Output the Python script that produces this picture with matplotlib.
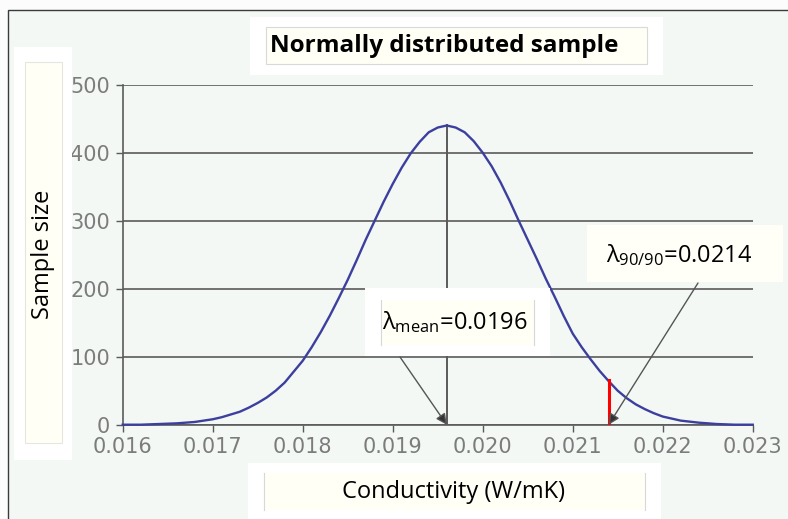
import matplotlib
matplotlib.use("Agg")
import matplotlib.pyplot as plt
from matplotlib.patches import Rectangle
from matplotlib.lines import Line2D

# ---- data ----
conductivity = [0.0160, 0.0162, 0.0164, 0.0166, 0.0168, 0.0170, 0.0171, 0.0172, 0.0173, 0.0174,
                0.0175, 0.0176, 0.0177, 0.0178, 0.0179, 0.0180, 0.0181, 0.0182, 0.0183, 0.0184,
                0.0185, 0.0186, 0.0187, 0.0188, 0.0189, 0.0190, 0.0191, 0.0192, 0.0193, 0.0194,
                0.0195, 0.0196, 0.0197, 0.0198, 0.0199, 0.0200, 0.0201, 0.0202, 0.0203, 0.0204,
                0.0205, 0.0206, 0.0207, 0.0208, 0.0209, 0.0210, 0.0211, 0.0212, 0.0213, 0.0214,
                0.0215, 0.0216, 0.0217, 0.0218, 0.0219, 0.0220, 0.0222, 0.0224, 0.0226, 0.0228,
                0.0230]
sample_size = [0, 0, 1, 2, 4, 8, 11, 15, 19, 25,
               32, 40, 50, 62, 78, 94, 114, 136, 160, 186,
               213, 242, 272, 300, 328, 354, 378, 399, 416, 430,
               437, 440, 437, 430, 417, 400, 380, 356, 329, 300,
               272, 244, 215, 188, 160, 134, 114, 96, 79, 64,
               50, 39, 30, 23, 17, 12, 6, 3, 1, 0,
               0]
x_ticks = [0.016, 0.017, 0.018, 0.019, 0.020, 0.021, 0.022, 0.023]
x_tick_labels = ["0.016", "0.017", "0.018", "0.019", "0.020", "0.021", "0.022", "0.023"]
y_ticks = [0, 100, 200, 300, 400, 500]
lambda_mean = 0.0196
lambda_9090 = 0.0214
value_at_9090 = 66

title = "Normally distributed sample"
x_label = "Conductivity (W/mK)"
y_label = "Sample size"

W, H = 788, 519
plt.rcParams['mathtext.fontset'] = 'custom'
plt.rcParams['mathtext.rm'] = 'Open Sans'
plt.rcParams['mathtext.it'] = 'Open Sans'

fig = plt.figure(figsize=(W / 100, H / 100), dpi=100)
fig.patch.set_facecolor('#fbfcfb')


def px_rect(x0, y0, x1, y1, fc, ec='none', lw=0.8, z=1):
    r = Rectangle((x0 / W, 1 - y1 / H), (x1 - x0) / W, (y1 - y0) / H,
                  transform=fig.transFigure, facecolor=fc, edgecolor=ec, lw=lw, zorder=z)
    fig.add_artist(r)


def px_vline(x, y0, y1, color='#d8d8d8', lw=0.8, z=2):
    fig.add_artist(Line2D([x / W, x / W], [1 - y0 / H, 1 - y1 / H],
                          transform=fig.transFigure, color=color, lw=lw, zorder=z))


# background panel with border
px_rect(8, 10, 800, 530, '#f3f8f5', ec='#3a3a3a', lw=1.0, z=-1)

ax = fig.add_axes([122.7 / W, 1 - 424.7 / H, (752.7 - 122.7) / W, (424.7 - 84.7) / H])
ax.set_facecolor('none')
ax.set_zorder(0)

grid_c = '#5a5a5a'
ax.plot(conductivity, sample_size, color='#3c3f9e', lw=1.7, zorder=3, clip_on=False)
ax.plot([lambda_mean, lambda_mean], [0, max(sample_size)], color=grid_c, lw=1.4, zorder=2)
ax.plot([lambda_9090, lambda_9090], [0, value_at_9090], color='#ff0000', lw=2.2, zorder=4)

ax.set_xlim(x_ticks[0], x_ticks[-1])
ax.set_ylim(0, 500)
ax.set_xticks(x_ticks)
ax.set_xticklabels(x_tick_labels)
ax.set_yticks(y_ticks)
ax.yaxis.grid(True, color=grid_c, lw=1.2)
ax.set_axisbelow(True)
for s in ['top', 'right']:
    ax.spines[s].set_visible(False)
for s in ['left', 'bottom']:
    ax.spines[s].set_color(grid_c)
    ax.spines[s].set_linewidth(1.2)
ax.tick_params(axis='both', direction='out', length=5, width=1.0, color=grid_c,
               labelcolor='#7c7c7c', labelsize=15, pad=4)
for lab in ax.get_xticklabels() + ax.get_yticklabels():
    lab.set_fontfamily('DejaVu Sans')

# title box
px_rect(250, 17, 663, 75, '#ffffff', z=5)
px_rect(266, 27, 647, 64, '#fffff6', ec='#d9d9d9', z=5)
fig.text(444 / W, 1 - 46 / H, title, ha='center', va='center', fontsize=17.5,
         fontweight='bold', family='Open Sans', color='black', zorder=6)

# y label box
px_rect(14, 47, 72, 460, '#ffffff', z=5)
px_rect(25, 62, 62, 443, '#fffff6', ec='#e6e6df', z=5)
fig.text(43 / W, 1 - 254 / H, y_label, ha='center', va='center', rotation=90,
         fontsize=17, family='Open Sans', color='black', zorder=6)

# x label box
px_rect(248, 463, 661, 525, '#ffffff', z=5)
px_rect(264, 473, 645, 510, '#fffff6', z=5)
px_vline(264, 473, 510, z=6)
px_vline(645, 473, 510, z=6)
fig.text(454 / W, 1 - 492 / H, x_label, ha='center', va='center',
         fontsize=17, family='Open Sans', color='black', zorder=6)

# lambda mean box
px_rect(365, 288, 550, 356, '#ffffff', z=5)
px_rect(381, 300, 534, 345, '#fffff6', z=5)
px_vline(381, 300, 345, z=6)
px_vline(534, 300, 345, z=6)
fig.text(455 / W, 1 - 322 / H, r'λ$_{\mathrm{mean}}$=0.0196', ha='center', va='center',
         fontsize=17, family='Open Sans', color='black', zorder=6)

# lambda 90/90 box
px_rect(587, 225, 783, 282, '#fffff8', z=5)
fig.text(679 / W, 1 - 255 / H, r'λ$_{\mathrm{90/90}}$=0.0214', ha='center', va='center',
         fontsize=17, family='Open Sans', color='black', zorder=6)

arrow_kw = dict(arrowstyle='-|>', color='#555555', lw=1.0, mutation_scale=16,
                shrinkA=0, shrinkB=0)
a1 = ax.annotate('', xy=(lambda_mean, 0), xycoords='data',
                 xytext=(400, H - 357), textcoords='figure pixels',
                 arrowprops=dict(arrow_kw, fc='#333333'), annotation_clip=False)
a1.set_zorder(7)
a2 = ax.annotate('', xy=(lambda_9090, 0), xycoords='data',
                 xytext=(698, H - 283), textcoords='figure pixels',
                 arrowprops=dict(arrow_kw, fc='#333333'), annotation_clip=False)
a2.set_zorder(7)

fig.savefig('out.png', dpi=100, facecolor=fig.get_facecolor())
